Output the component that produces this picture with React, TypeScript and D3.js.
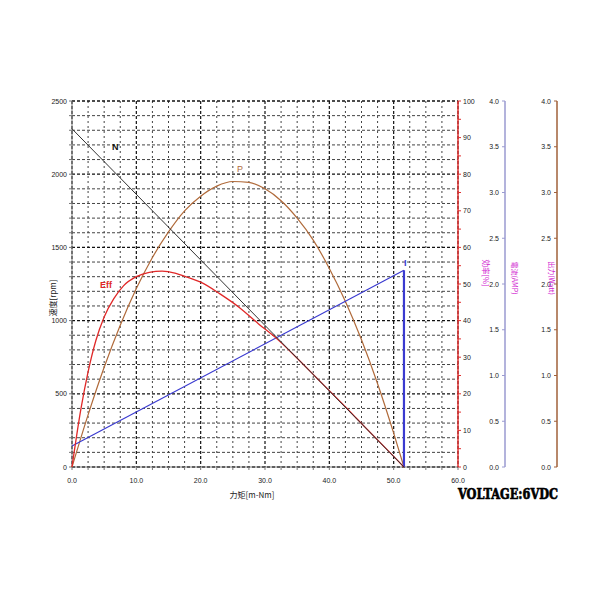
import React from "react";
import * as d3 from "d3";

// ---- data ----
const speedTorque = [0, 51.6];
const speedRpm = [2310, 0];

const currentTorque = [0, 51.6];
const currentAmp = [0.23, 2.15];

const powerTorque = [0, 2.5, 5, 7.5, 10, 12.5, 15, 17.5, 20, 22.5, 25, 27.5, 30, 32.5, 35, 37.5, 40, 42.5, 45, 47.5, 50, 51.6];
const powerWatt = [0, 0.57, 1.09, 1.55, 1.95, 2.29, 2.57, 2.8, 2.96, 3.07, 3.12, 3.11, 3.04, 2.91, 2.72, 2.48, 2.17, 1.81, 1.39, 0.91, 0.37, 0];

const effTorque = [0, 1.4, 2.5, 3.7, 5, 6.5, 8, 10, 12, 14, 16, 18, 20, 23, 26, 29, 32, 35, 38, 41, 44, 47, 50, 51.6];
const effPct = [0, 16, 26, 34.5, 41, 46, 49.5, 52, 53.2, 53.5, 53, 51.8, 50.5, 47.3, 43.6, 39.1, 34.8, 29.7, 24.4, 19.1, 13.7, 8.3, 2.9, 0];

const xTicks = [0, 10, 20, 30, 40, 50, 60];
const xTickLabels = ["0.0", "10.0", "20.0", "30.0", "40.0", "50.0", "60.0"];
const speedTicks = [0, 500, 1000, 1500, 2000, 2500];
const effTicks = [0, 10, 20, 30, 40, 50, 60, 70, 80, 90, 100];
const ampTicks = [0, 0.5, 1, 1.5, 2, 2.5, 3, 3.5, 4];

const speedLabel = "速度[rpm]";
const torqueLabel = "力矩[m-Nm]";
const effLabel = "効率[%]";
const ampLabel = "電流(AMP)";
const wattLabel = "出力(Watt)";
const voltage = "VOLTAGE:6VDC";

const L = 72, R = 458, T = 101, B = 467;

export default function App() {
  const x = d3.scaleLinear().domain([0, 60]).range([L, R]);
  const yN = d3.scaleLinear().domain([0, 2500]).range([B, T]);
  const yE = d3.scaleLinear().domain([0, 100]).range([B, T]);
  const yA = d3.scaleLinear().domain([0, 4]).range([B, T]);

  const lineN = d3.line<number>().x((_, i) => x(speedTorque[i])).y((d) => yN(d));
  const lineI = d3.line<number>().x((_, i) => x(currentTorque[i])).y((d) => yA(d));
  const lineP = d3.line<number>().x((_, i) => x(powerTorque[i])).y((d) => yA(d)).curve(d3.curveMonotoneX);
  const lineE = d3.line<number>().x((_, i) => x(effTorque[i])).y((d) => yE(d)).curve(d3.curveMonotoneX);

  const vGrid = d3.range(0, 60.01, 2.5);
  const hGrid = d3.range(0, 2500.1, 100);
  const font = "'Liberation Sans', Arial, sans-serif";
  const cjk = "'Noto Sans CJK JP', 'Noto Sans', sans-serif";
  const tickFs = 7;
  const blueAxisX = 505;
  const brownAxisX = 557;
  const stallT = currentTorque[currentTorque.length - 1];

  return (
    <svg width={600} height={600} style={{ position: "absolute", left: 0, top: 0, background: "#fff" }}>
      {/* grid */}
      {vGrid.map((v) => {
        const major = v % 10 === 0;
        return (
          <line key={"v" + v} x1={x(v)} x2={x(v)} y1={T} y2={B}
            stroke={major ? "#111" : "#444"} strokeWidth={major ? 1.2 : 1}
            strokeDasharray={major ? "3,2" : "2,3"} />
        );
      })}
      {hGrid.map((v) => {
        const major = v % 500 === 0;
        return (
          <line key={"h" + v} x1={L} x2={R} y1={yN(v)} y2={yN(v)}
            stroke={major ? "#111" : "#444"} strokeWidth={major ? 1.3 : 1}
            strokeDasharray="3,2" />
        );
      })}

      {/* left axis */}
      <line x1={L} x2={L} y1={T} y2={B} stroke="#777" />
      {hGrid.map((v) => (
        <line key={"lt" + v} x1={L - 3} x2={L} y1={yN(v)} y2={yN(v)} stroke="#777" />
      ))}
      {speedTicks.map((v) => (
        <text key={"ls" + v} x={L - 5} y={yN(v) + 2.5} fontSize={tickFs} fontFamily={font} textAnchor="end" fill="#222">{v}</text>
      ))}
      <text transform={`translate(56,298) rotate(-90)`} fontSize={8} fontFamily={cjk} textAnchor="middle" fill="#222">{speedLabel}</text>

      {/* bottom axis */}
      <line x1={L} x2={R} y1={B} y2={B} stroke="#777" />
      {vGrid.map((v) => (
        <line key={"bt" + v} x1={x(v)} x2={x(v)} y1={B} y2={B + 3} stroke="#777" />
      ))}
      {xTicks.map((v, i) => (
        <text key={"bx" + v} x={x(v)} y={B + 16} fontSize={tickFs} fontFamily={font} textAnchor="middle" fill="#222">{xTickLabels[i]}</text>
      ))}
      <text x={252} y={498} fontSize={8} fontFamily={cjk} textAnchor="middle" fill="#222">{torqueLabel}</text>

      {/* right red axis (efficiency) */}
      <line x1={R} x2={R} y1={T} y2={B} stroke="#e03030" strokeWidth={1.5} />
      {d3.range(0, 100.1, 5).map((v) => (
        <line key={"rt" + v} x1={R} x2={R + 3} y1={yE(v)} y2={yE(v)} stroke="#e03030" />
      ))}
      {effTicks.map((v) => (
        <text key={"re" + v} x={R + 5} y={yE(v) + 2.5} fontSize={tickFs} fontFamily={font} fill="#222">{v}</text>
      ))}
      <text transform={`translate(483,273) rotate(90)`} fontSize={7.5} fontFamily={cjk} textAnchor="middle" fill="#d020d0">{effLabel}</text>

      {/* current axis */}
      <line x1={blueAxisX} x2={blueAxisX} y1={T} y2={B} stroke="#9a9ad0" strokeWidth={1.5} />
      {ampTicks.map((v) => (
        <g key={"ba" + v}>
          <line x1={blueAxisX - 3} x2={blueAxisX} y1={yA(v)} y2={yA(v)} stroke="#9a9ad0" />
          <text x={blueAxisX - 6} y={yA(v) + 2.5} fontSize={tickFs} fontFamily={font} textAnchor="end" fill="#222">{v.toFixed(1)}</text>
        </g>
      ))}
      <text transform={`translate(512,278) rotate(90)`} fontSize={7} fontFamily={cjk} textAnchor="middle" fill="#d020d0">{ampLabel}</text>

      {/* power axis */}
      <line x1={brownAxisX} x2={brownAxisX} y1={T} y2={B} stroke="#a0603a" strokeWidth={1.5} />
      {ampTicks.map((v) => (
        <g key={"wa" + v}>
          <line x1={brownAxisX - 3} x2={brownAxisX} y1={yA(v)} y2={yA(v)} stroke="#a0603a" />
          <text x={brownAxisX - 6} y={yA(v) + 2.5} fontSize={tickFs} fontFamily={font} textAnchor="end" fill="#222">{v.toFixed(1)}</text>
        </g>
      ))}
      <text transform={`translate(549,278) rotate(90)`} fontSize={7} fontFamily={cjk} textAnchor="middle" fill="#d020d0">{wattLabel}</text>

      {/* curves */}
      <path d={lineP(powerWatt) || ""} fill="none" stroke="#b06a3a" strokeWidth={1.2} />
      <path d={lineI(currentAmp) || ""} fill="none" stroke="#3a3ad0" strokeWidth={1.2} />
      <line x1={x(stallT)} x2={x(stallT)} y1={yA(currentAmp[1])} y2={B} stroke="#3a3ad0" strokeWidth={2.2} />
      <path d={lineE(effPct) || ""} fill="none" stroke="#e02828" strokeWidth={1.3} />
      <path d={lineN(speedRpm) || ""} fill="none" stroke="#333" strokeWidth={1} />

      {/* curve labels */}
      <text x={112} y={150} fontSize={9} fontWeight="bold" fontFamily={font} fill="#111">N</text>
      <text x={237} y={172} fontSize={9} fontFamily={font} fill="#b06a3a">P</text>
      <text x={100} y={288} fontSize={9} fontWeight="bold" fontFamily={font} fill="#e02828">Eff</text>
      <text x={404} y={266} fontSize={9} fontWeight="bold" fontFamily={font} fill="#3a3ad0">I</text>

      <text x={458} y={499} fontSize={15} fontWeight="bold" fontFamily="'DejaVu Serif', serif" textLength={100} lengthAdjust="spacingAndGlyphs" fill="#000" stroke="#000" strokeWidth={0.7}>{voltage}</text>
    </svg>
  );
}
